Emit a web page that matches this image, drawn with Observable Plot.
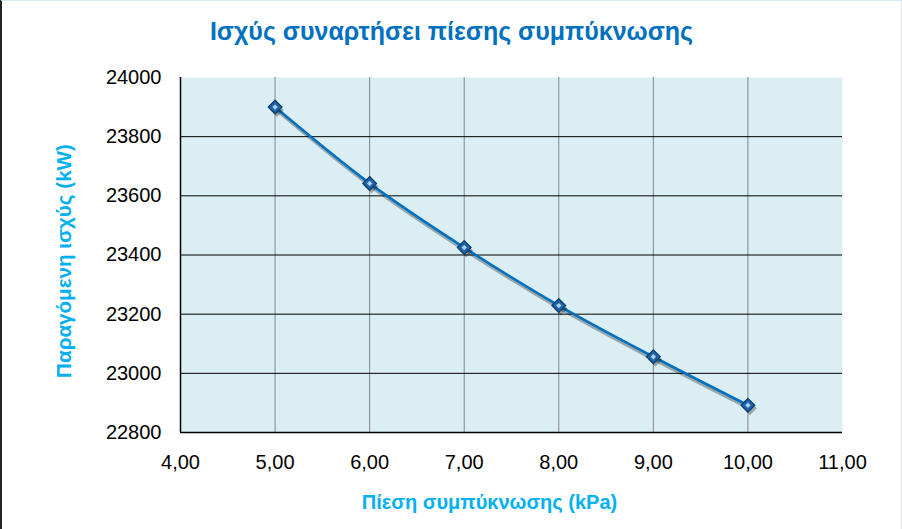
<!DOCTYPE html>
<html>
<head>
<meta charset="utf-8">
<script src="https://cdn.jsdelivr.net/npm/d3@7"></script>
<script src="https://cdn.jsdelivr.net/npm/@observablehq/plot@0.6"></script>
<style>
  html, body { margin: 0; padding: 0; background: #fff; }
  #wrap { position: relative; width: 902px; height: 529px; box-sizing: border-box; overflow: hidden;
          border-left: 2px solid #222; border-top: 1px solid #d6eaf2; border-right: 1px solid #e4e4e4; }
  #title { height: 56px; line-height: 60px; text-align: center; font-family: "Liberation Sans", Arial, sans-serif;
           font-weight: bold; font-size: 25px; color: #0070C0; padding-left: 0px; }
  svg { display: block; }
</style>
</head>
<body>
<div id="wrap">
  <div id="title">Ισχύς συναρτήσει πίεσης συμπύκνωσης</div>
  <div id="chart"></div>
</div>
<script>
const pressure = [5, 6, 7, 8, 9, 10];
const power = [23900, 23642, 23425, 23229, 23056, 22892];
const xTicks = [4, 5, 6, 7, 8, 9, 10, 11];
const yTicks = [22800, 23000, 23200, 23400, 23600, 23800, 24000];
const xLabel = "Πίεση συμπύκνωσης (kPa)";
const yLabel = "Παραγόμενη ισχύς (kW)";

const data = pressure.map((p, i) => ({p, w: power[i]}));
const font = "Liberation Sans, Arial, sans-serif";

const chart = Plot.plot({
  width: 899,
  height: 472,
  marginLeft: 178,
  marginRight: 59,
  marginTop: 20,
  marginBottom: 97,
  style: {fontFamily: font, fontSize: "20px", color: "#000", background: "transparent"},
  x: {domain: [4, 11], ticks: xTicks},
  y: {domain: [22800, 24000], ticks: yTicks},
  marks: [
    Plot.frame({fill: "#DBEEF4", stroke: null}),
    Plot.ruleX(xTicks.filter(v => v > 4 && v < 11), {stroke: "#868686", strokeWidth: 1}),
    Plot.ruleY(yTicks.filter(v => v > 22800 && v < 24000), {stroke: "#000", strokeWidth: 1}),
    Plot.ruleY([22800], {stroke: "#000", strokeWidth: 1.5}),
    Plot.ruleX([4], {stroke: "#000", strokeWidth: 1.5}),
    Plot.axisX({ticks: xTicks, tickSize: 0, tickPadding: 22, tickFormat: d => d.toFixed(2).replace(".", ","), label: null, fontSize: 20}),
    Plot.axisY({ticks: yTicks, tickSize: 0, tickPadding: 19, tickFormat: d => String(d), label: null, fontSize: 20}),
    Plot.line(data, {x: "p", y: "w", curve: "catmull-rom", stroke: "#000", strokeOpacity: 0.3, strokeWidth: 4, dx: 2, dy: 3}),
    Plot.line(data, {x: "p", y: "w", curve: "catmull-rom", stroke: "#0070C0", strokeWidth: 2.6}),
    Plot.dot(data, {x: "p", y: "w", symbol: "diamond2", r: 6.2, fill: "#000", fillOpacity: 0.3, stroke: null, dx: 2, dy: 3}),
    Plot.dot(data, {x: "p", y: "w", symbol: "diamond2", r: 6.2, fill: "#1f63a6", stroke: "#083c70", strokeWidth: 1.2}),
    Plot.dot(data, {x: "p", y: "w", symbol: "diamond2", r: 2.4, fill: "#a9d3f0", stroke: null}),
    Plot.text([xLabel], {frameAnchor: "bottom", text: d => d, dx: -22, dy: 76, fill: "#00B0F0", fontWeight: "bold", fontSize: 20}),
    Plot.text([yLabel], {frameAnchor: "left", textAnchor: "middle", text: d => d, rotate: -90, dx: -116, dy: 6, fill: "#00B0F0", fontWeight: "bold", fontSize: 20.6})
  ]
});
document.getElementById("chart").appendChild(chart);
</script>
</body>
</html>
